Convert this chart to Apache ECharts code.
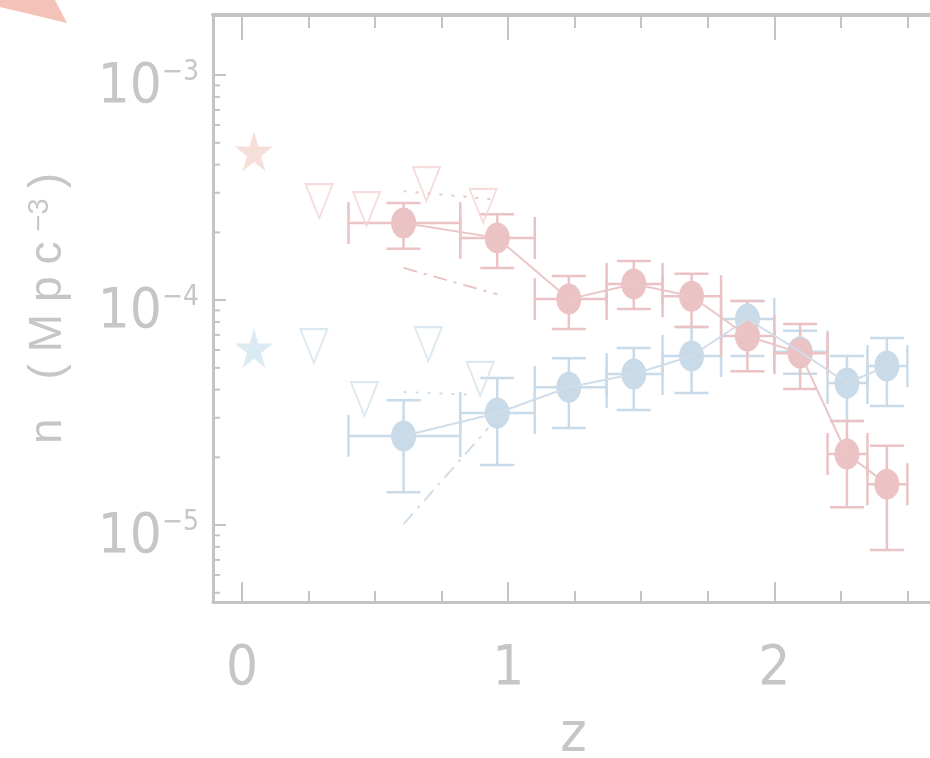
<!DOCTYPE html>
<html><head><meta charset="utf-8">
<script src="https://cdn.jsdelivr.net/npm/echarts@6/dist/echarts.min.js"></script>
<style>html,body{margin:0;padding:0;background:#fff}#c{width:930px;height:758px}</style>
</head><body><div id="c"></div><script>
// ---- data ----
const binZLo = [0.40, 0.82, 1.10, 1.37, 1.58, 1.80, 2.00, 2.20, 2.35];
const binZHi = [0.82, 1.10, 1.37, 1.58, 1.80, 2.00, 2.20, 2.35, 2.50];
const binZ   = [0.607, 0.959, 1.228, 1.472, 1.689, 1.899, 2.097, 2.273, 2.423];

const redN   = [2.20e-4, 1.89e-4, 1.01e-4, 1.18e-4, 1.04e-4, 6.92e-5, 5.81e-5, 2.07e-5, 1.52e-5];
const redNHi = [2.70e-4, 2.41e-4, 1.28e-4, 1.49e-4, 1.31e-4, 9.90e-5, 7.82e-5, 2.90e-5, 2.25e-5];
const redNLo = [1.69e-4, 1.39e-4, 7.43e-5, 9.12e-5, 7.59e-5, 4.83e-5, 4.02e-5, 1.20e-5, 7.74e-6];

const blueN   = [2.49e-5, 3.15e-5, 4.10e-5, 4.69e-5, 5.64e-5, 8.24e-5, 5.90e-5, 4.28e-5, 5.09e-5];
const blueNHi = [3.59e-5, 4.50e-5, 5.52e-5, 6.12e-5, 7.59e-5, 9.90e-5, 7.30e-5, 5.64e-5, 6.78e-5];
const blueNLo = [1.40e-5, 1.85e-5, 2.70e-5, 3.25e-5, 3.86e-5, 5.64e-5, 4.70e-5, 2.90e-5, 3.38e-5];

const redTriZ = [0.290, 0.468, 0.693, 0.906];
const redTriN = [2.75e-4, 2.54e-4, 3.28e-4, 2.62e-4];
const blueTriZ = [0.270, 0.460, 0.700, 0.895];
const blueTriN = [6.25e-5, 3.63e-5, 6.37e-5, 4.46e-5];

const starZ = [0.045];
const redStarN = [4.59e-4];
const blueStarN = [6.12e-5];

const redDashZ = [0.607, 0.960];
const redDashN = [1.39e-4, 1.06e-4];
const blueDashZ = [0.607, 0.925];
const blueDashN = [1.01e-5, 2.70e-5];

const redDotZ = [0.607, 0.950];
const redDotN = [3.05e-4, 2.80e-4];
const blueDotZ = [0.607, 0.850];
const blueDotN = [3.90e-5, 3.80e-5];

const xMajorTicks = [0, 1, 2];
const xMinorTicks = [0.25, 0.5, 0.75, 1.25, 1.5, 1.75, 2.25, 2.5];

// ---- styling ----
const RED = '#ebc3c5', RED_LINE = '#ebc6c8';
const BLUE = '#c9dbe9', BLUE_LINE = '#cfdeea';
const AXIS = '#c4c4c4', TXT = '#c6c6c6';
const FONT = "'Liberation Sans Narrow','DejaVu Sans Condensed','Arial Narrow',sans-serif";
const YMIN = 4.55e-6, YMAX = 1.85e-3, XMIN = -0.109, XMAX = 2.6;

const yMinorTicks = [];
for (let e = -6; e <= -3; e++) for (let m = 2; m <= 9; m++) {
  const v = m * Math.pow(10, e);
  if (v > YMIN && v < YMAX) yMinorTicks.push(v);
}

function pairs(a, b) { return a.map((v, i) => [v, b[i]]); }
function errData(n, lo, hi) { return binZ.map((z, i) => [z, n[i], binZLo[i], binZHi[i], lo[i], hi[i]]); }
function errRender(color) {
  return function (params, api) {
    const z = api.value(0), n = api.value(1);
    const c = api.coord([z, n]);
    const pl = api.coord([api.value(2), n]), ph = api.coord([api.value(3), n]);
    const pb = api.coord([z, api.value(4)]), pt = api.coord([z, api.value(5)]);
    const st = { stroke: color, lineWidth: 2.5 };
    const L = (x1, y1, x2, y2) => ({ type: 'line', shape: { x1, y1, x2, y2 }, style: st });
    return { type: 'group', children: [
      L(pl[0], c[1], ph[0], c[1]),
      L(pl[0], c[1] - 21, pl[0], c[1] + 21),
      L(ph[0], c[1] - 21, ph[0], c[1] + 21),
      L(c[0], pt[1], c[0], pb[1]),
      L(c[0] - 17, pt[1], c[0] + 17, pt[1]),
      L(c[0] - 17, pb[1], c[0] + 17, pb[1])
    ]};
  };
}
const STAR = 'path://M50,0 L61,35 L98,35 L68,57 L79,91 L50,70 L21,91 L32,57 L2,35 L39,35 Z';

const chart = echarts.init(document.getElementById('c'), null, { renderer: 'canvas' });
const xBase = { type: 'value', min: XMIN, max: XMAX, splitLine: { show: false } };
chart.setOption({
  backgroundColor: '#ffffff',
  animation: false,
  grid: { left: 213, right: -4, top: 15, bottom: 156, containLabel: false, outerBoundsMode: 'none' },
  graphic: [{ type: 'polygon', shape: { points: [[0, 0], [55, 0], [67, 23], [0, 7]] }, style: { fill: '#f4c2b9' } }],
  xAxis: [
    Object.assign({}, xBase, {
      position: 'bottom', name: 'z', nameLocation: 'middle', nameGap: 106,
      nameTextStyle: { fontSize: 56, color: TXT, fontFamily: FONT },
      axisLine: { onZero: false, lineStyle: { color: AXIS, width: 3 } },
      axisTick: { inside: true, length: 20, customValues: xMajorTicks, lineStyle: { color: AXIS, width: 2 } },
      axisLabel: { customValues: xMajorTicks, margin: 39, fontSize: 56, color: TXT, fontFamily: FONT }
    }),
    Object.assign({}, xBase, {
      position: 'bottom', axisLine: { show: false, onZero: false },
      axisTick: { inside: true, length: 11, customValues: xMinorTicks, lineStyle: { color: AXIS, width: 2 } },
      axisLabel: { show: false }
    }),
    Object.assign({}, xBase, {
      position: 'top', axisLine: { onZero: false, lineStyle: { color: AXIS, width: 4 } },
      axisTick: { inside: true, length: 25, customValues: xMajorTicks, lineStyle: { color: AXIS, width: 2 } },
      axisLabel: { show: false }
    }),
    Object.assign({}, xBase, {
      position: 'top', axisLine: { show: false, onZero: false },
      axisTick: { inside: true, length: 13, customValues: xMinorTicks, lineStyle: { color: AXIS, width: 2 } },
      axisLabel: { show: false }
    })
  ],
  yAxis: [{
    type: 'log', min: YMIN, max: YMAX, position: 'left',
    name: '{t|n}{sp| }{t|(}{t|M}{t|p}{t|c}{e|−3}{t|)}', nameLocation: 'middle', nameGap: 142,
    nameTextStyle: { color: TXT, fontFamily: 'Liberation Sans', fontSize: 46,
      rich: { t: { fontSize: 46, color: TXT, fontFamily: 'Liberation Sans', padding: [0, 6, 0, 6] },
              sp: { fontSize: 46, padding: [0, 7, 0, 7] },
              e: { fontSize: 29, color: TXT, fontFamily: 'Liberation Sans', verticalAlign: 'top', padding: [0, 4, 0, 4] } } },
    splitLine: { show: false },
    axisLine: { onZero: false, lineStyle: { color: AXIS, width: 3 } },
    axisTick: { inside: true, length: 13, lineStyle: { color: AXIS, width: 2 } },
    axisLabel: {
      margin: 14, interval: 0, showMinLabel: false, showMaxLabel: false, color: TXT, fontFamily: FONT,
      formatter: v => {
        const e = Math.round(Math.log10(v));
        if (Math.abs(Math.log10(v) - e) > 1e-6) return '';
        return '{b|10}{s|−' + Math.abs(e) + '}';
      },
      rich: { b: { fontSize: 56, color: TXT, fontFamily: FONT, padding: [24, 0, 0, 0] },
              s: { fontSize: 28, color: TXT, fontFamily: FONT, verticalAlign: 'top', padding: [24, 0, 0, 0] } }
    }
  }],
  series: [
    { type: 'custom', name: 'yminor', xAxisIndex: 0, silent: true,
      data: yMinorTicks.map(v => [XMIN, v]), encode: { x: 0, y: 1 },
      renderItem: (p, api) => { const c = api.coord([XMIN, api.value(1)]);
        return { type: 'line', shape: { x1: c[0], y1: c[1], x2: c[0] + 7, y2: c[1] }, style: { stroke: AXIS, lineWidth: 2 } }; } },
    { type: 'line', data: pairs(blueDashZ, blueDashN), symbol: 'none', lineStyle: { color: BLUE_LINE, width: 2, type: [14, 7, 3, 7] } },
    { type: 'line', data: pairs(redDashZ, redDashN), symbol: 'none', lineStyle: { color: RED_LINE, width: 2, type: [14, 7, 3, 7] } },
    { type: 'line', data: pairs(blueDotZ, blueDotN), symbol: 'none', lineStyle: { color: BLUE_LINE, width: 2, type: [3, 9] } },
    { type: 'line', data: pairs(redDotZ, redDotN), symbol: 'none', lineStyle: { color: RED_LINE, width: 2, type: [3, 9] } },
    { type: 'line', data: pairs(binZ, blueN), symbol: 'none', lineStyle: { color: BLUE_LINE, width: 2 } },
    { type: 'custom', data: errData(blueN, blueNLo, blueNHi), encode: { x: 0, y: 1 }, renderItem: errRender(BLUE) },
    { type: 'scatter', data: pairs(binZ, blueN), symbol: 'circle', symbolSize: [25, 31], itemStyle: { color: BLUE, opacity: 1 } },
    { type: 'line', data: pairs(binZ, redN), symbol: 'none', lineStyle: { color: RED_LINE, width: 2 } },
    { type: 'custom', data: errData(redN, redNLo, redNHi), encode: { x: 0, y: 1 }, renderItem: errRender(RED) },
    { type: 'scatter', data: pairs(binZ, redN), symbol: 'circle', symbolSize: [25, 31], itemStyle: { color: RED, opacity: 1 } },
    { type: 'scatter', data: pairs(redTriZ, redTriN), symbol: 'triangle', symbolRotate: 180, symbolSize: [27, 34],
      itemStyle: { color: 'rgba(255,255,255,0)', borderColor: '#f3d4d2', borderWidth: 2 } },
    { type: 'scatter', data: pairs(blueTriZ, blueTriN), symbol: 'triangle', symbolRotate: 180, symbolSize: [27, 34],
      itemStyle: { color: 'rgba(255,255,255,0)', borderColor: '#d3e3ec', borderWidth: 2 } },
    { type: 'scatter', data: pairs(starZ, redStarN), symbol: STAR, symbolSize: [38, 40], itemStyle: { color: '#f3d7ce' } },
    { type: 'scatter', data: pairs(starZ, blueStarN), symbol: STAR, symbolSize: [38, 40], itemStyle: { color: '#d3e5f0' } }
  ]
});
</script></body></html>
